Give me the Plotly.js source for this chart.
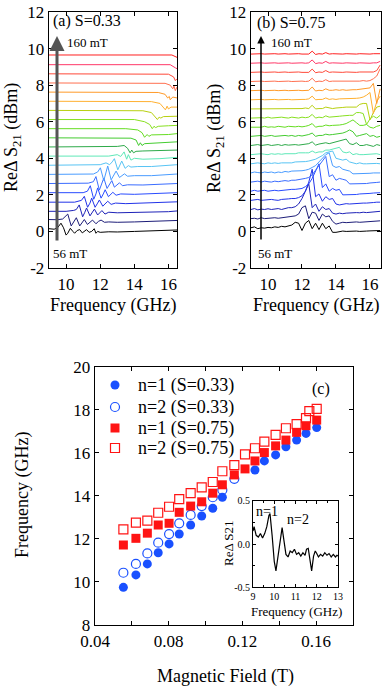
<!DOCTYPE html>
<html>
<head>
<meta charset="utf-8">
<script src="https://cdn.plot.ly/plotly-3.0.1.min.js"></script>
<style>
  html, body { margin: 0; padding: 0; background: #fff; }
  #chart { width: 382px; height: 687px; }
</style>
</head>
<body>
<div id="chart"></div>
<script>
// colours of the 20 field steps, 56 mT (black) up to 160 mT (red)
const traceColors = ['#000000', '#1c1c78', '#1e22b8', '#2233e8', '#2a4cff', '#3a6cff', '#4a9cff', '#58c4f4',
    '#5ee8b8', '#2eaa4a', '#44cc30', '#66dd22', '#88e020', '#b8d010', '#ffb030', '#ff9a28',
    '#ff7050', '#ff4838', '#ff3868', '#ff2020'];
const offsetStep = 0.5;

// panel (a), S=0.33: [frequency GHz, signal] (before offset)
const specA = [
    [[9,0.15],[9.3,0.12],[9.5,0.2],[9.7,0.45],[9.85,0.2],[10.0,-0.2],[10.1,-0.1],[10.25,0.17],[10.4,0.0],[10.5,-0.1],[10.65,0.05],[10.8,0.1],[10.95,-0.08],[11.05,0.0],[11.2,0.1],[11.35,-0.05],[11.5,0.0],[11.65,0.15],[11.75,-0.1],[11.85,0.0],[12.0,-0.05],[12.5,-0.02],[13,-0.03],[14,0],[15,0.02],[16,0.05],[16.5,0.08]],
    [[9,0.15],[9.5,0.14],[9.8,0.18],[10.1,0.45],[10.3,-0.2],[10.45,0.05],[10.6,0.25],[10.8,-0.2],[10.95,0.0],[11.07,0.15],[11.25,-0.12],[11.4,0.0],[11.55,0.12],[11.75,-0.08],[11.9,0.05],[12.05,0.12],[12.25,0.0],[12.5,0.02],[13,0],[14,0.02],[15,0.05],[16,0.08],[16.5,0.1]],
    [[9,0.1],[10,0.1],[10.45,0.15],[10.6,0.2],[10.77,0.45],[10.97,-0.2],[11.1,0.05],[11.2,0.28],[11.4,-0.15],[11.55,0.05],[11.66,0.22],[11.85,-0.1],[12.0,0.05],[12.1,0.14],[12.28,-0.05],[12.5,0.05],[13,0.02],[14,0.03],[15,0.05],[16,0.08],[16.5,0.12]],
    [[9,0.1],[10.5,0.1],[10.9,0.2],[11.07,0.42],[11.26,-0.18],[11.4,0.05],[11.5,0.32],[11.7,-0.18],[11.85,0.05],[11.95,0.22],[12.15,-0.12],[12.3,0.05],[12.44,0.15],[12.64,-0.02],[12.9,0.05],[13.5,0.02],[14.5,0.05],[15.5,0.08],[16.5,0.12]],
    [[9,0.12],[11,0.12],[11.25,0.2],[11.42,0.5],[11.62,-0.24],[11.75,0.05],[11.85,0.38],[12.05,-0.18],[12.18,0.05],[12.29,0.28],[12.48,-0.1],[12.62,0.05],[12.74,0.14],[12.93,-0.02],[13.2,0.05],[14,0.03],[15,0.06],[16,0.1],[16.5,0.12]],
    [[9,0.12],[11.3,0.14],[11.6,0.22],[11.75,0.5],[11.95,-0.24],[12.08,0.05],[12.21,0.42],[12.4,-0.15],[12.55,0.05],[12.68,0.28],[12.83,-0.08],[13.0,0.05],[13.13,0.16],[13.3,0.0],[13.6,0.05],[14.5,0.04],[15.5,0.08],[16.5,0.12]],
    [[9,0.12],[11.6,0.14],[11.85,0.25],[12.01,0.48],[12.21,-0.22],[12.32,0.1],[12.44,0.58],[12.64,-0.18],[12.78,0.05],[12.93,0.3],[13.13,-0.05],[13.28,0.08],[13.42,0.15],[13.6,0.02],[14,0.05],[15,0.05],[16,0.1],[16.5,0.14]],
    [[9,0.12],[12,0.15],[12.34,0.25],[12.55,0.15],[12.7,0.3],[12.83,0.48],[13.03,-0.13],[13.15,0.1],[13.26,0.35],[13.46,-0.05],[13.65,0.1],[13.8,0.02],[14.2,0.05],[15,0.05],[16,0.1],[16.5,0.15]],
    [[9,0.12],[12.5,0.12],[13.0,0.2],[13.2,0.1],[13.4,0.35],[13.55,-0.05],[13.65,0.2],[13.8,-0.1],[14.0,0.0],[14.5,-0.05],[15.5,-0.02],[16.5,0.05]],
    [[9,0.12],[12,0.12],[13.0,0.15],[13.4,0.2],[13.6,0.05],[13.75,-0.2],[13.85,-0.05],[13.95,-0.2],[14.1,-0.12],[14.5,-0.1],[15.5,-0.08],[16.5,-0.05]],
    [[9,0.12],[13,0.12],[13.8,0.1],[14.1,0.0],[14.25,-0.3],[14.35,-0.15],[14.45,-0.3],[14.6,-0.2],[15,-0.18],[16,-0.15],[16.5,-0.1]],
    [[9,0.12],[13.5,0.12],[14.2,0.05],[14.45,-0.1],[14.6,-0.35],[14.75,-0.2],[14.85,-0.3],[15.0,-0.22],[16,-0.2],[16.5,-0.15]],
    [[9,0.12],[14,0.12],[14.6,0.0],[14.9,-0.15],[15.05,-0.38],[15.15,-0.25],[15.25,-0.32],[15.4,-0.25],[16,-0.22],[16.5,-0.2]],
    [[9,0.12],[14.5,0.1],[15.0,0.0],[15.2,-0.2],[15.35,-0.38],[15.45,-0.25],[15.55,-0.3],[15.7,-0.22],[16.5,-0.2]],
    [[9,0.12],[15,0.1],[15.5,0.0],[15.7,-0.2],[15.82,-0.35],[15.92,-0.15],[16.0,-0.3],[16.15,-0.2],[16.5,-0.2]],
    [[9,0.12],[15.4,0.1],[15.8,0.0],[15.95,-0.2],[16.05,-0.12],[16.1,-0.3],[16.25,-0.15],[16.5,-0.2]],
    [[9,0.12],[15.8,0.1],[16.1,0.0],[16.25,-0.2],[16.32,-0.05],[16.4,-0.3],[16.5,-0.1]],
    [[9,0.12],[16.0,0.1],[16.3,-0.05],[16.4,-0.25],[16.5,-0.15]],
    [[9,0.12],[16.1,0.12],[16.4,-0.05],[16.5,-0.1]],
    [[9,0.15],[16.2,0.15],[16.5,0.02]]
];

// panel (b), S=0.75: signal on a 0.2 GHz frequency grid (before offset)
const freqB = [9.0, 9.2, 9.4, 9.6, 9.8, 10.0, 10.2, 10.4, 10.6, 10.8, 11.0, 11.2, 11.4, 11.6, 11.8, 12.0, 12.2, 12.4, 12.6, 12.8,
    13.0, 13.2, 13.4, 13.6, 13.8, 14.0, 14.2, 14.4, 14.6, 14.8, 15.0, 15.2, 15.4, 15.6, 15.8, 16.0, 16.2, 16.4, 16.6];
const specB = [
    [0.2,0.25,0.15,0.2,0.18,0.22,0.2,0.25,0.22,0.28,0.25,0.3,0.35,0.5,0.45,0.05,0.45,0.6,0.15,0.45,0.1,0.45,0.15,0.3,-0.05,-0.05,0,0.02,0,0.02,0,0.02,0,0.03,0.02,0.03,0.03,0.05,0.05],
    [0.2,0.22,0.18,0.25,0.2,0.22,0.2,0.25,0.22,0.25,0.28,0.3,0.3,0.35,0.45,0.8,0.9,0.2,0.55,0.5,0.1,0.45,0.3,0.35,0.05,-0.1,-0.05,0,-0.02,0,0,0.02,0,0.02,0.03,0.05,0.05,0.08,0.08],
    [0.2,0.25,0.18,0.22,0.2,0.24,0.2,0.22,0.25,0.2,0.25,0.3,0.3,0.35,0.5,0.8,1.2,1.6,0.3,0.5,0.1,0.35,0.2,0.25,0,-0.05,0,-0.03,0,0.02,0,0.03,0.02,0.05,0.03,0.05,0.08,0.08,0.1],
    [0.2,0.22,0.25,0.2,0.22,0.2,0.25,0.22,0.2,0.25,0.25,0.28,0.3,0.3,0.35,0.45,0.7,1.2,1.9,0.4,0.55,0.15,0.4,0.25,0.3,0,-0.05,0,0.02,0,0.02,0.03,0.02,0.05,0.05,0.05,0.08,0.1,0.1],
    [0.2,0.25,0.2,0.22,0.25,0.2,0.22,0.25,0.22,0.25,0.25,0.28,0.3,0.3,0.32,0.35,0.45,0.6,0.9,1.3,1.7,0.4,0.6,0.2,0.35,0.25,0.3,0,0,0.02,0.03,0.02,0.05,0.05,0.05,0.08,0.1,0.1,0.12],
    [0.2,0.22,0.25,0.2,0.25,0.22,0.2,0.25,0.22,0.25,0.28,0.25,0.3,0.3,0.32,0.35,0.4,0.45,0.6,0.85,1.1,1.4,1.6,0.5,0.6,0.3,0.4,0.35,0.3,0.1,0.1,0.1,0.12,0.1,0.12,0.15,0.15,0.18,0.2],
    [0.2,0.25,0.22,0.2,0.25,0.22,0.25,0.2,0.25,0.22,0.28,0.25,0.3,0.3,0.3,0.32,0.35,0.4,0.5,0.6,0.8,1.0,1.2,1.3,0.6,0.5,0.55,0.4,0.35,0.3,0.15,0.15,0.15,0.15,0.18,0.18,0.2,0.2,0.2],
    [0.2,0.22,0.25,0.22,0.2,0.25,0.22,0.25,0.22,0.25,0.25,0.28,0.25,0.3,0.3,0.3,0.32,0.35,0.4,0.45,0.55,0.65,0.8,0.85,0.9,0.5,0.45,0.4,0.45,0.3,0.25,0.2,0.25,0.2,0.2,0.22,0.2,0.22,0.2],
    [0.2,0.22,0.2,0.25,0.22,0.2,0.25,0.22,0.25,0.22,0.25,0.25,0.28,0.25,0.3,0.28,0.3,0.3,0.4,0.3,0.35,0.35,0.45,0.45,0.5,0.55,0.6,0.35,0.3,0.35,0.2,0.25,0.2,0.2,0.22,0.2,0.22,0.25,0.2],
    [0.2,0.22,0.25,0.2,0.22,0.25,0.2,0.22,0.25,0.2,0.25,0.22,0.25,0.25,0.22,0.25,0.25,0.3,0.4,0.22,0.28,0.3,0.35,0.3,0.35,0.4,0.45,0.5,0.55,0.3,0.25,0.35,0.2,0.2,0.25,0.2,0.15,0.25,0.2],
    [0.2,0.22,0.2,0.25,0.2,0.22,0.25,0.2,0.22,0.2,0.25,0.22,0.25,0.2,0.25,0.22,0.25,0.3,0.38,0.2,0.25,0.25,0.32,0.28,0.3,0.32,0.35,0.38,0.45,0.55,0.45,0.2,0.25,0.3,0.35,0.2,0.25,0.15,0.2],
    [0.2,0.2,0.22,0.2,0.25,0.2,0.22,0.2,0.25,0.22,0.2,0.25,0.22,0.22,0.25,0.22,0.25,0.3,0.4,0.2,0.25,0.25,0.32,0.28,0.3,0.3,0.32,0.35,0.4,0.5,0.6,0.45,0.3,0.3,0.35,0.2,0.15,0.25,0.3],
    [0.2,0.22,0.2,0.22,0.2,0.25,0.2,0.22,0.2,0.25,0.22,0.2,0.25,0.22,0.2,0.25,0.22,0.25,0.4,0.2,0.25,0.22,0.32,0.25,0.28,0.3,0.3,0.32,0.35,0.35,0.35,0.5,0.5,0.45,-0.15,0.15,0.3,0.2,0.35],
    [0.2,0.2,0.22,0.2,0.22,0.2,0.22,0.2,0.22,0.2,0.22,0.22,0.2,0.22,0.2,0.22,0.25,0.22,0.4,0.2,0.22,0.22,0.3,0.25,0.22,0.25,0.25,0.28,0.3,0.3,0.3,0.3,0.45,0.5,0.5,-0.4,0,0.3,0.35],
    [0.2,0.22,0.2,0.22,0.2,0.22,0.2,0.22,0.2,0.22,0.2,0.22,0.2,0.22,0.2,0.22,0.22,0.25,0.4,0.2,0.22,0.22,0.3,0.22,0.25,0.22,0.25,0.25,0.28,0.25,0.28,0.28,0.3,0.35,0.45,0.6,-0.55,0.1,0.4],
    [0.2,0.22,0.2,0.22,0.2,0.22,0.2,0.22,0.2,0.22,0.22,0.2,0.22,0.2,0.22,0.2,0.22,0.22,0.4,0.18,0.22,0.2,0.3,0.22,0.22,0.25,0.22,0.25,0.22,0.25,0.25,0.25,0.28,0.28,0.3,0.35,0.6,-0.5,0.3],
    [0.2,0.22,0.2,0.22,0.2,0.22,0.2,0.22,0.2,0.22,0.2,0.22,0.2,0.22,0.2,0.22,0.2,0.22,0.38,0.18,0.22,0.2,0.3,0.2,0.22,0.22,0.2,0.22,0.22,0.2,0.22,0.22,0.22,0.25,0.22,0.25,0.35,0.5,0.9],
    [0.2,0.22,0.2,0.22,0.2,0.22,0.2,0.22,0.2,0.22,0.22,0.2,0.22,0.2,0.22,0.2,0.22,0.2,0.38,0.18,0.22,0.2,0.3,0.2,0.22,0.2,0.22,0.2,0.22,0.2,0.22,0.2,0.22,0.22,0.2,0.22,0.22,0.3,0.6],
    [0.2,0.22,0.2,0.22,0.2,0.22,0.2,0.22,0.2,0.22,0.2,0.22,0.2,0.22,0.2,0.22,0.2,0.22,0.38,0.18,0.22,0.2,0.3,0.2,0.22,0.2,0.22,0.2,0.22,0.2,0.22,0.2,0.22,0.2,0.22,0.2,0.22,0.22,0.3],
    [0.2,0.22,0.2,0.22,0.2,0.22,0.2,0.22,0.2,0.22,0.22,0.2,0.22,0.2,0.22,0.2,0.22,0.2,0.36,0.18,0.22,0.2,0.28,0.2,0.22,0.2,0.22,0.2,0.22,0.2,0.22,0.2,0.22,0.2,0.22,0.2,0.22,0.2,0.22]
];

// panel (c): resonance frequency (GHz) vs magnetic field (T)
const field = [0.0554, 0.0622, 0.0684, 0.0743, 0.0802, 0.0857, 0.0919, 0.0979, 0.1039, 0.1091,
    0.1156, 0.1214, 0.1268, 0.1319, 0.138, 0.1436, 0.1494, 0.1545, 0.1603];
const n1S033 = [9.75, 10.33, 10.84, 11.36, 11.77, 12.23, 12.65, 13.07, 13.43, 13.94,
    null, null, 15.21, 15.63, 15.91, 16.29, 16.6, 16.91, 17.18];
const n2S033 = [10.43, 10.84, 11.33, 11.83, 12.23, 12.73, 13.12, 13.53, 13.94, 14.28, 14.8];
const n1S075 = [11.72, 12.03, 12.27, 12.65, 12.73, 13.24, 13.53, 13.73, 14.13, 14.52,
    14.98, 15.26, 15.63, 16.02, 16.33, 16.6, 16.96, 17.27, 17.53];
const fieldN2S075 = [0.0554, 0.0622, 0.0684, 0.0743, 0.0802, 0.0857, 0.0919, 0.0979, 0.1039, 0.1091,
    0.1156, 0.1214, 0.1268, 0.1319, 0.138, 0.1436, 0.1494, 0.1545, 0.1563, 0.1603];
const n2S075 = [12.45, 12.76, 12.85, 13.22, 13.5, 13.85, 14.13, 14.4, 14.65, 15.15,
    15.44, 15.94, 16.22, 16.53, 16.84, 17.15, 17.34, 17.62, 17.95, 18.05];
const legendLabels = ['n=1 (S=0.33)', 'n=2 (S=0.33)', 'n=1 (S=0.75)', 'n=2 (S=0.75)'];

// inset: single spectrum
const insetFreq = [9.0, 9.05, 9.15, 9.25, 9.35, 9.45, 9.55, 9.65, 9.75, 9.8, 9.9, 10.0, 10.08, 10.2, 10.3, 10.37,
    10.45, 10.55, 10.65, 10.75, 10.85, 10.95, 11.05, 11.15, 11.25, 11.35, 11.45, 11.52, 11.6, 11.68, 11.76,
    11.85, 11.93, 12.0, 12.08, 12.18, 12.28, 12.38, 12.48, 12.58, 12.68, 12.78, 12.88, 12.95, 13.0];
const insetSig = [0.15, 0.2, 0.1, 0.08, 0.12, 0.07, 0.12, 0.2, 0.33, 0.35, 0.1, -0.2, -0.31, -0.1, 0.12, 0.19,
    0.05, -0.12, -0.15, -0.08, -0.1, -0.06, -0.12, -0.1, -0.14, -0.1, -0.13, -0.06, -0.05, -0.2, -0.31,
    -0.14, -0.08, -0.11, -0.15, -0.12, -0.14, -0.1, -0.13, -0.11, -0.15, -0.12, -0.15, -0.13, -0.14];

const serif = 'Liberation Serif, Times New Roman, serif';
const traces = [];

specA.forEach((pts, k) => {
    traces.push({
        x: pts.map(p => p[0]), y: pts.map(p => p[1] + k * offsetStep),
        xaxis: 'x', yaxis: 'y', type: 'scatter', mode: 'lines',
        line: {color: traceColors[k], width: 1}, showlegend: false, hoverinfo: 'skip'
    });
});
specB.forEach((vals, k) => {
    traces.push({
        x: freqB, y: vals.map(v => v + k * offsetStep),
        xaxis: 'x2', yaxis: 'y2', type: 'scatter', mode: 'lines',
        line: {color: traceColors[k], width: 1}, showlegend: false, hoverinfo: 'skip'
    });
});

const blue = 'rgb(25,80,255)';
const red = 'rgb(255,20,20)';
traces.push(
    { x: field, y: n1S033, xaxis: 'x3', yaxis: 'y3', type: 'scatter', mode: 'markers', name: legendLabels[0],
      marker: {symbol: 'circle', size: 9, color: blue}, showlegend: false },
    { x: field.slice(0, n2S033.length), y: n2S033, xaxis: 'x3', yaxis: 'y3', type: 'scatter', mode: 'markers', name: legendLabels[1],
      marker: {symbol: 'circle-open', size: 9, color: blue, line: {width: 1.2}}, showlegend: false },
    { x: field, y: n1S075, xaxis: 'x3', yaxis: 'y3', type: 'scatter', mode: 'markers', name: legendLabels[2],
      marker: {symbol: 'square', size: 9, color: red}, showlegend: false },
    { x: fieldN2S075, y: n2S075, xaxis: 'x3', yaxis: 'y3', type: 'scatter', mode: 'markers', name: legendLabels[3],
      marker: {symbol: 'square-open', size: 9, color: red, line: {width: 1.2}}, showlegend: false },
    { x: insetFreq, y: insetSig, xaxis: 'x4', yaxis: 'y4', type: 'scatter', mode: 'lines',
      line: {color: '#000', width: 1.2}, showlegend: false, hoverinfo: 'skip' }
);

function frameAxis(extra) {
    return Object.assign({
        showline: true, linecolor: '#000', linewidth: 1.3, mirror: 'allticks',
        ticks: 'inside', ticklen: 4, tickwidth: 1, tickcolor: '#000',
        showgrid: false, zeroline: false, fixedrange: true,
        tickfont: {family: serif, size: 17, color: '#000'}
    }, extra);
}

const waterTicks = [-2, 0, 2, 4, 6, 8, 10, 12];
const waterText = ['-2', '0', '2', '4', '6', '8', '10', '12'];

function paperText(text, x, y, size, opts) {
    return Object.assign({
        text: text, xref: 'paper', yref: 'paper', x: x / 382, y: 1 - y / 687,
        showarrow: false, font: {family: serif, size: size, color: '#000'},
        xanchor: 'center', yanchor: 'middle'
    }, opts || {});
}
function arrow(x, yHead, yTail, color, width) {
    return {
        text: ' ', xref: 'paper', yref: 'paper', x: x / 382, y: 1 - yHead / 687,
        ax: 0, ay: yTail - yHead, showarrow: true, arrowhead: 2, arrowsize: 1,
        arrowwidth: width, arrowcolor: color, standoff: 0, startstandoff: 0
    };
}

// hand-built legend key for panel (c): rows of symbol + label
const legendRows = [385, 407, 428, 448];
const keyX = 115, keyR = 4.5;
function keyShape(kind, row, color, filled) {
    return {
        type: kind, xref: 'paper', yref: 'paper',
        x0: (keyX - keyR) / 382, x1: (keyX + keyR) / 382,
        y0: 1 - (row + keyR) / 687, y1: 1 - (row - keyR) / 687,
        line: {color: color, width: filled ? 0 : 1.2},
        fillcolor: filled ? color : 'rgba(0,0,0,0)'
    };
}
const shapes = [
    keyShape('circle', legendRows[0], blue, true),
    keyShape('circle', legendRows[1], blue, false),
    keyShape('rect', legendRows[2], red, true),
    keyShape('rect', legendRows[3], red, false)
];

const annotations = [
    paperText('ReΔ S<sub>21</sub> (dBm)', 12, 138, 18, {textangle: -90}),
    paperText('ReΔ S<sub>21</sub> (dBm)', 215, 138, 18, {textangle: -90}),
    paperText('Frequency (GHz)', 113, 306, 18),
    paperText('Frequency (GHz)', 316, 306, 18),
    paperText('(a) S=0.33', 51, 21, 16, {xanchor: 'left'}),
    paperText('(b) S=0.75', 255, 23, 16, {xanchor: 'left'}),
    paperText('160 mT', 65, 42, 13, {xanchor: 'left'}),
    paperText('56 mT', 51, 253, 13, {xanchor: 'left'}),
    paperText('160 mT', 269, 42, 13, {xanchor: 'left'}),
    paperText('56 mT', 256, 253, 13, {xanchor: 'left'}),
    arrow(57, 36, 249, '#555', 3),
    arrow(261, 36, 248, '#000', 1.5),
    paperText('Frequency (GHz)', 22, 495, 18, {textangle: -90}),
    paperText('Magnetic Field (T)', 225, 676, 18),
    paperText('(c)', 321, 389, 16),
    paperText('ReΔ S21', 228, 543, 13, {textangle: -90}),
    paperText('Frequency (GHz)', 296, 611, 13),
    paperText('n=1', 267, 511, 14),
    paperText('n=2', 298, 519, 14)
];
legendLabels.forEach((label, i) => {
    annotations.push(paperText(label, 136, legendRows[i], 18, {xanchor: 'left'}));
});

const layout = {
    width: 382, height: 687,
    margin: {l: 0, r: 0, t: 0, b: 0},
    paper_bgcolor: '#fff', plot_bgcolor: 'rgba(0,0,0,0)',
    font: {family: serif, color: '#000'},
    showlegend: false,
    xaxis: frameAxis({domain: [0.1283, 0.4634], range: [9, 16.5], anchor: 'y', tickvals: [10, 12, 14, 16]}),
    yaxis: frameAxis({domain: [0.6099, 0.9825], range: [-2, 12], anchor: 'x', tickvals: waterTicks, ticktext: waterText}),
    xaxis2: frameAxis({domain: [0.6571, 0.9974], range: [9, 16.65], anchor: 'y2', tickvals: [10, 12, 14, 16]}),
    yaxis2: frameAxis({domain: [0.6099, 0.9825], range: [-2, 12], anchor: 'x2', tickvals: waterTicks, ticktext: waterText}),
    xaxis3: frameAxis({domain: [0.2487, 0.9241], range: [0.04, 0.18], anchor: 'y3', dtick: 0.04, tick0: 0, tickformat: '.2f',
        minor: {dtick: 0.02, tick0: 0, ticks: 'inside', ticklen: 4, tickcolor: '#000'}}),
    yaxis3: frameAxis({domain: [0.0903, 0.4658], range: [8, 20], anchor: 'x3', dtick: 2}),
    xaxis4: frameAxis({domain: [0.6623, 0.8848], range: [9, 13], anchor: 'y4', dtick: 1, ticklen: 3, linewidth: 1,
        tickfont: {family: serif, size: 10, color: '#000'},
        minor: {dtick: 0.5, ticks: 'inside', ticklen: 2, tickcolor: '#000'}}),
    yaxis4: frameAxis({domain: [0.1451, 0.2712], range: [-0.5, 0.5], anchor: 'x4', ticklen: 3, linewidth: 1,
        tickvals: [-0.5, 0, 0.5], ticktext: ['-0.5', '0.0', '0.5'],
        tickfont: {family: serif, size: 10, color: '#000'},
        minor: {dtick: 0.25, ticks: 'inside', ticklen: 2, tickcolor: '#000'}}),
    shapes: shapes,
    annotations: annotations
};

Plotly.newPlot('chart', traces, layout, {staticPlot: true});
</script>
</body>
</html>
